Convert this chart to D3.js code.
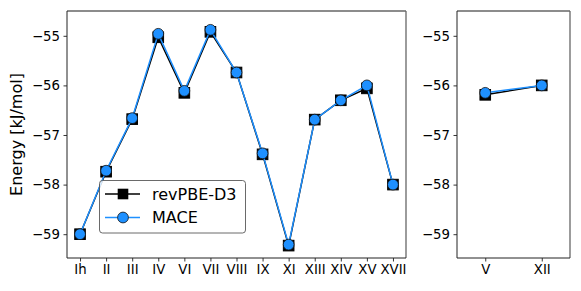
<!DOCTYPE html>
<html>
<head>
<meta charset="utf-8">
<script src="https://cdn.jsdelivr.net/npm/d3@7"></script>
<style>
body { margin: 0; background: #fff; }
text { font-family: "DejaVu Sans", sans-serif; }
</style>
</head>
<body>
<script type="text/javascript">

// main panel phases
var phases = ["Ih","II","III","IV","VI","VII","VIII","IX","XI","XIII","XIV","XV","XVII"]
var dftMain = [-59.0,-57.74,-56.68,-55.03,-56.15,-54.92,-55.74,-57.39,-59.23,-56.69,-56.3,-56.06,-58.0]
var maceMain = [-59.0,-57.72,-56.66,-54.96,-56.11,-54.88,-55.74,-57.37,-59.21,-56.69,-56.3,-56.0,-58.0]

// side panel phases
var sidePhases = ["V","XII"]
var dftSide = [-56.19,-56.0]
var maceSide = [-56.15,-56.0]

var yTicks = [-59,-58,-57,-56,-55]
var yDomain = [-59.48,-54.5]

var width = 581, height = 291
var top_ = 11, bottom = 258
var blue = "#1e90ff"

var svg = d3.select("body").append("svg")
    .attr("width", width)
    .attr("height", height)

var y = d3.scaleLinear().domain(yDomain).range([bottom, top_])

var fmt = function(d){ return d < 0 ? "\u2212" + Math.abs(d) : "" + d }

var drawPanel = function(cats, dft, mace, x0, x1) {
    var x = d3.scalePoint().domain(cats).range([x0, x1]).padding(0.5)
    var g = svg.append("g")

    // axes
    var ya = g.append("g").attr("transform", "translate(" + x0 + ",0)")
        .call(d3.axisLeft(y).tickValues(yTicks).tickSize(3.5).tickPadding(3.5).tickFormat(fmt))
    var xa = g.append("g").attr("transform", "translate(0," + bottom + ")")
        .call(d3.axisBottom(x).tickSize(3.5).tickPadding(3.5))
    ya.select(".domain").remove()
    xa.select(".domain").remove()
    g.selectAll(".tick line").attr("stroke", "#000").attr("stroke-width", 0.8)
    g.selectAll(".tick text").attr("font-size", "13.3px").attr("fill", "#000")
        .style("font-family", "DejaVu Sans")

    // frame
    g.append("line").attr("x1", x0).attr("x2", x1).attr("y1", top_).attr("y2", top_)
        .attr("stroke", "#666").attr("stroke-width", 1.3)
    g.append("line").attr("x1", x1).attr("x2", x1).attr("y1", top_).attr("y2", bottom)
        .attr("stroke", "#666").attr("stroke-width", 1.3)
    g.append("line").attr("x1", x0).attr("x2", x0).attr("y1", top_).attr("y2", bottom)
        .attr("stroke", "#222").attr("stroke-width", 1)
    g.append("line").attr("x1", x0).attr("x2", x1).attr("y1", bottom).attr("y2", bottom)
        .attr("stroke", "#222").attr("stroke-width", 1)

    var line = d3.line().x(function(d, i){ return x(cats[i]) }).y(function(d){ return y(d) })

    g.append("path").datum(dft).attr("d", line)
        .attr("fill", "none").attr("stroke", "#000").attr("stroke-width", 1.5)
    g.selectAll("rect.dft").data(dft).enter().append("rect")
        .attr("class", "dft")
        .attr("x", function(d, i){ return x(cats[i]) - 5.3 })
        .attr("y", function(d){ return y(d) - 5.3 })
        .attr("width", 10.6).attr("height", 10.6)
        .attr("fill", "#000").attr("stroke", "#000").attr("stroke-width", 1)

    g.append("path").datum(mace).attr("d", line)
        .attr("fill", "none").attr("stroke", blue).attr("stroke-width", 1.5)
    g.selectAll("circle.mace").data(mace).enter().append("circle")
        .attr("class", "mace")
        .attr("cx", function(d, i){ return x(cats[i]) })
        .attr("cy", function(d){ return y(d) })
        .attr("r", 5.4)
        .attr("fill", blue).attr("stroke", "#111").attr("stroke-width", 0.8)
}

drawPanel(phases, dftMain, maceMain, 67, 406)
drawPanel(sidePhases, dftSide, maceSide, 457, 570)

// y label
svg.append("text")
    .attr("transform", "translate(22," + ((top_ + bottom) / 2) + ") rotate(-90)")
    .attr("text-anchor", "middle")
    .attr("font-size", "16px")
    .text("Energy [kJ/mol]")

// legend
var lg = svg.append("g")
lg.append("rect").attr("x", 99.5).attr("y", 180.5).attr("width", 146).attr("height", 52.5)
    .attr("rx", 3).attr("fill", "#fff").attr("fill-opacity", 0.8)
    .attr("stroke", "#444").attr("stroke-width", 0.8)

var legendItems = [
    {label: "revPBE-D3", color: "#000", shape: "square", yy: 194},
    {label: "MACE", color: blue, shape: "circle", yy: 217.5}
]
legendItems.forEach(function(item){
    lg.append("line").attr("x1", 105).attr("x2", 140).attr("y1", item.yy).attr("y2", item.yy)
        .attr("stroke", item.color).attr("stroke-width", 1.5)
    if (item.shape === "square") {
        lg.append("rect").attr("x", 123 - 5.3).attr("y", item.yy - 5.3)
            .attr("width", 10.6).attr("height", 10.6).attr("fill", "#000")
    } else {
        lg.append("circle").attr("cx", 123).attr("cy", item.yy).attr("r", 5.4)
            .attr("fill", blue).attr("stroke", "#111").attr("stroke-width", 0.8)
    }
    lg.append("text").attr("x", 152).attr("y", item.yy).attr("dy", "0.36em")
        .attr("font-size", "16px").text(item.label)
})

</script>
</body>
</html>
